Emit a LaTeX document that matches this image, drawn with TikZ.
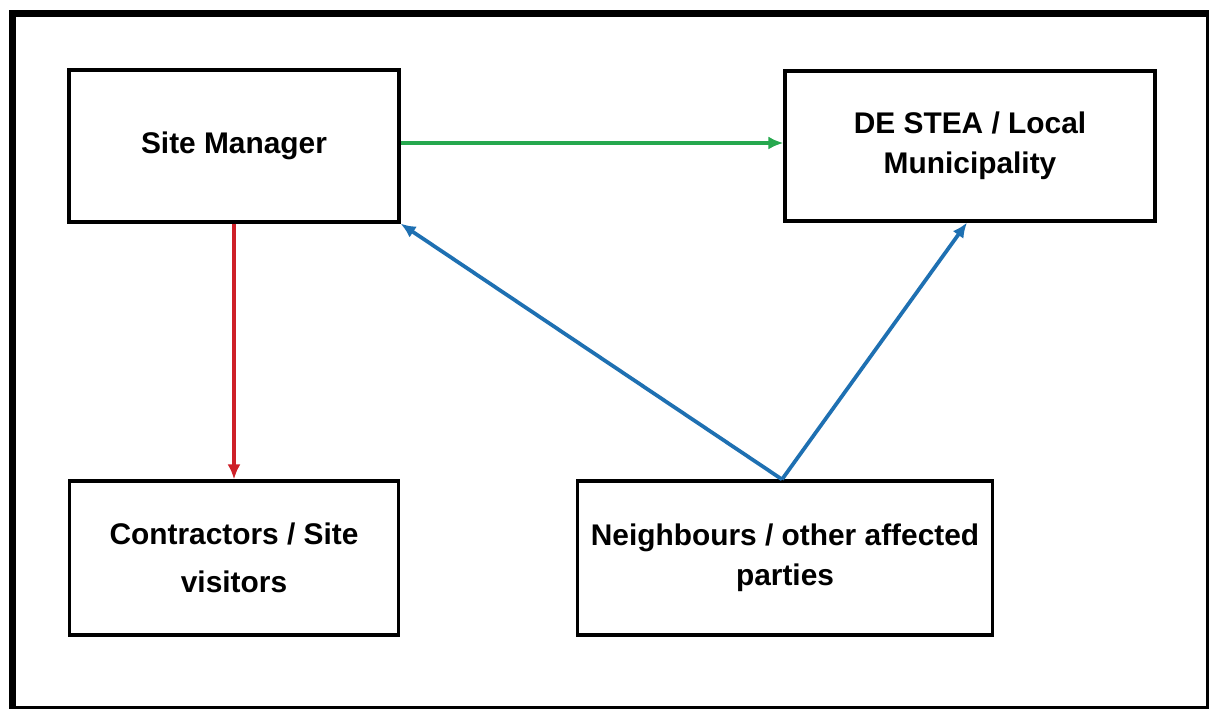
\documentclass[tikz,border=0pt]{standalone}
\usepackage{fontspec}
\setmainfont{Liberation Sans}
\usepackage{tikz}
\usetikzlibrary{arrows.meta}
\tikzstyle{pixelGrid} = [x = 0.02cm, y = -0.02cm]
\definecolor{greenArrow}{RGB}{38,168,78}
\definecolor{redArrow}{RGB}{206,32,40}
\definecolor{blueArrow}{RGB}{30,112,178}
\tikzstyle{frameLine} = [color=black, line width=0.14cm]
\tikzstyle{roleBox} = [draw=black, line width=0.065cm, fill=white, align=center, font=\bfseries\fontsize{17}{23}\selectfont, inner sep=0pt]
\tikzstyle{flowArrow} = [line width=0.075cm, -{Latex[length=0.3cm, width=0.26cm]}]
\newcommand{\pxStep}{0.06cm}

\begin{document}
\begin{tikzpicture}[pixelGrid]
          \useasboundingbox (0,0) rectangle (1209,709);
          \clip (0,0) rectangle (1209,709);
          \fill [white] (0,0) rectangle (1209,709);
          \draw [frameLine] (12.5,13.5) rectangle (1209.5,709.5);

          % boxes
          \node [roleBox, minimum width=6.6cm, minimum height=3.04cm] (siteManager) at (234,146) {Site Manager};
          \node [roleBox, minimum width=7.4cm, minimum height=3.0cm] (destea) at (970,146) {DE STEA / Local\\Municipality};
          \node [roleBox, minimum width=6.58cm, minimum height=3.08cm, font=\bfseries\fontsize{17}{27}\selectfont] (contractors) at (234,558) {Contractors / Site\\visitors};
          \node [roleBox, minimum width=8.3cm, minimum height=3.08cm] (neighbours) at (785,558) {Neighbours / other affected\\parties};

          % arrows
          \draw [flowArrow, greenArrow] ([yshift=\pxStep]siteManager.east) -- ([yshift=\pxStep]destea.west);
          \draw [flowArrow, redArrow] (siteManager.south) -- (contractors.north);
          \draw [flowArrow, blueArrow] ([xshift=-\pxStep]neighbours.north) -- (siteManager.south east);
          \draw [flowArrow, blueArrow] ([xshift=-\pxStep]neighbours.north) -- ([xshift=-\pxStep]destea.south);
        \end{tikzpicture}
\end{document}
